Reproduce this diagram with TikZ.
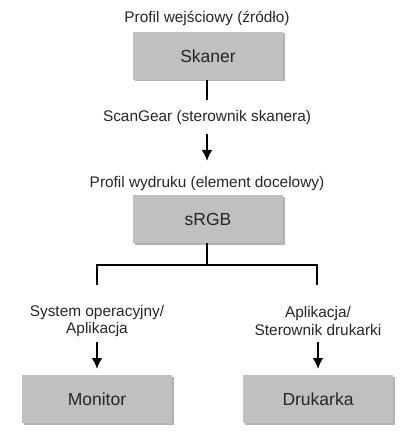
\documentclass[tikz,border=0pt]{standalone}
\usepackage{fontspec}
\setmainfont{Liberation Sans}
\usetikzlibrary{arrows.meta}
\begin{document}
\begin{tikzpicture}[x=1pt,y=-1pt,
  box/.style={draw=none,fill=boxgray,minimum width=150pt,minimum height=48pt,inner sep=0pt,font=\fontsize{17.5}{20}\selectfont,text=black!85},
  lbl/.style={font=\fontsize{15.4}{17.5}\selectfont,text=black!85,inner sep=0pt,align=center},
  ln/.style={line width=2.4pt,black},
  arr/.style={line width=2.4pt,black,-{Latex[length=11pt,width=11pt]}}]
\definecolor{boxgray}{HTML}{C0C0C0}
\useasboundingbox (0,0) rectangle (416,446);
% shadows
\fill[black!30] (134.5,33.5) rectangle (284.5,81.5);
\fill[black!30] (134.5,196.5) rectangle (284.5,244.5);
\fill[black!30] (23.5,376.5) rectangle (173.5,424.5);
\fill[black!30] (244.5,376.5) rectangle (394.5,424.5);
\node[lbl] (t1) at (207,18) {Profil wejściowy (źródło)};
\node[box] (skaner) at (208,56) {Skaner};
\node[lbl] (t2) at (207,118) {ScanGear (sterownik skanera)};
\coordinate (a1) at (207,100);
\coordinate (a2s) at (207,134);
\coordinate (a2e) at (207,161);
\node[lbl] (t3) at (207,184) {Profil wydruku (element docelowy)};
\node[box] (srgb) at (208,219) {sRGB};
\coordinate (j) at (207,265);
\coordinate (jl) at (97,265);
\coordinate (jr) at (317,265);
\coordinate (jl2) at (97,285);
\coordinate (jr2) at (317,285);
\node[lbl] (t4) at (97,321) {System operacyjny/\\Aplikacja};
\node[lbl] (t5) at (318,321) {Aplikacja/\\Sterownik drukarki};
\coordinate (bl1) at (97,342);
\coordinate (bl2) at (97,369);
\coordinate (br1) at (318,342);
\coordinate (br2) at (318,369);
\node[box] (monitor) at (97,399) {Monitor};
\node[box] (druk) at (318,399) {Drukarka};
\draw[ln] (skaner.south -| a1) -- (a1);
\draw[arr] (a2s) -- (a2e);
\draw[ln] (srgb.south -| j) -- (j);
\draw[ln] (jl2) -- (jl) -- (jr) -- (jr2);
\draw[arr] (bl1) -- (bl2);
\draw[arr] (br1) -- (br2);
\end{tikzpicture}
\end{document}
